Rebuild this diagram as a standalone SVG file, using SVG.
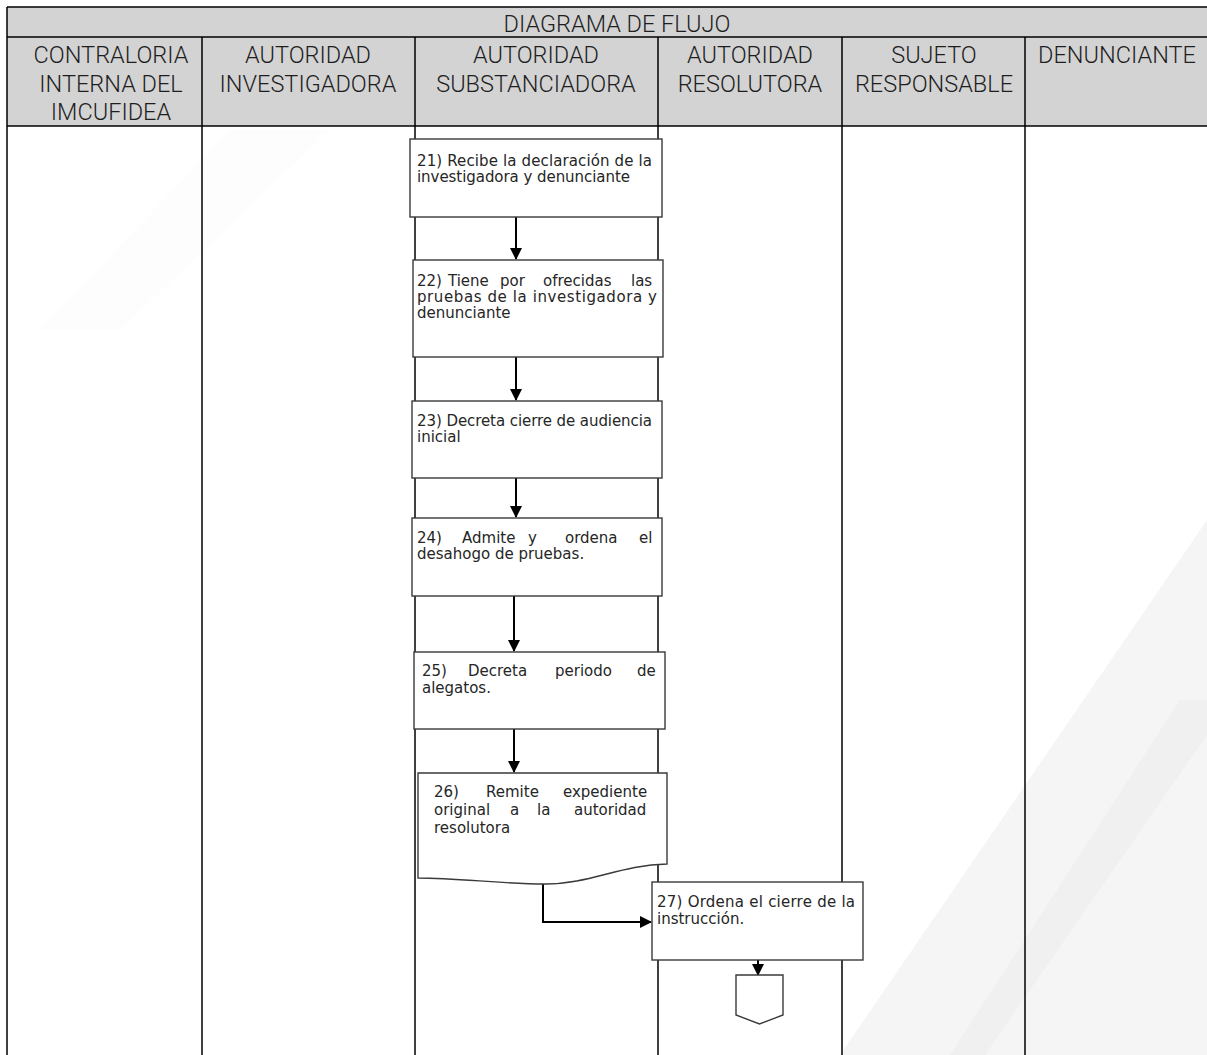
<svg xmlns="http://www.w3.org/2000/svg" width="1207" height="1055" viewBox="0 0 1207 1055">
  <defs>
    <marker id="arrow" viewBox="0 0 12 12" refX="11" refY="6" markerWidth="12" markerHeight="12" markerUnits="userSpaceOnUse" orient="auto">
      <path d="M0,0 L12,6 L0,12 Z" fill="#000"/>
    </marker>
    <style>
      .hdr { fill: #d3d3d3; }
      .grid { stroke: #000; stroke-width: 1.5; fill: none; }
      .htxt { font-family: Roboto, "Liberation Sans", sans-serif; font-weight: 300; font-size: 23.5px; fill: #1e1e1e; text-anchor: middle; }
      .box { fill: #fff; stroke: #3a3a3a; stroke-width: 1.4; }
      .t { font-family: "DejaVu Sans", sans-serif; font-size: 15px; fill: #262626; }
      .conn { stroke: #000; stroke-width: 2; fill: none; marker-end: url(#arrow); }
      .wm { fill: #f5f5f5; }
    </style>
  </defs>

  <!-- background and faint watermark bands -->
  <rect x="0" y="0" width="1207" height="1055" fill="#fff"/>
  <polygon class="wm" points="1207,520 840,1055 1207,1055"/>
  <polygon fill="#f0f0f0" points="1207,700 1180,700 950,1055 985,1055 1207,735"/>
  <polygon fill="#fdfdfd" points="330,130 230,130 40,330 120,330"/>

  <!-- table header -->
  <g id="header">
    <rect class="hdr" x="7" y="7" width="1200" height="119"/>
    <line class="grid" x1="7" y1="7" x2="1207" y2="7"/>
    <line class="grid" x1="7" y1="37" x2="1207" y2="37"/>
    <line class="grid" x1="7" y1="126" x2="1207" y2="126"/>
    <text class="htxt" x="617" y="32">DIAGRAMA DE FLUJO</text>
    <text class="htxt" x="111" y="63">CONTRALORIA</text>
    <text class="htxt" x="111" y="92">INTERNA DEL</text>
    <text class="htxt" x="111" y="120">IMCUFIDEA</text>
    <text class="htxt" x="308" y="63">AUTORIDAD</text>
    <text class="htxt" x="308" y="92">INVESTIGADORA</text>
    <text class="htxt" x="536" y="63">AUTORIDAD</text>
    <text class="htxt" x="536" y="92">SUBSTANCIADORA</text>
    <text class="htxt" x="750" y="63">AUTORIDAD</text>
    <text class="htxt" x="750" y="92">RESOLUTORA</text>
    <text class="htxt" x="934" y="63">SUJETO</text>
    <text class="htxt" x="934" y="92">RESPONSABLE</text>
    <text class="htxt" x="1117" y="63">DENUNCIANTE</text>
  </g>

  <!-- lane dividers -->
  <g id="lanes">
    <line class="grid" x1="7" y1="7" x2="7" y2="1055"/>
    <line class="grid" x1="202" y1="37" x2="202" y2="1055"/>
    <line class="grid" x1="415" y1="37" x2="415" y2="1055"/>
    <line class="grid" x1="658" y1="37" x2="658" y2="1055"/>
    <line class="grid" x1="842" y1="37" x2="842" y2="1055"/>
    <line class="grid" x1="1025" y1="37" x2="1025" y2="1055"/>
  </g>

  <!-- connectors -->
  <g id="connectors">
    <line class="conn" x1="516" y1="217" x2="516" y2="259"/>
    <line class="conn" x1="516" y1="357" x2="516" y2="400"/>
    <line class="conn" x1="516" y1="478" x2="516" y2="517"/>
    <line class="conn" x1="514" y1="596" x2="514" y2="651"/>
    <line class="conn" x1="514" y1="729" x2="514" y2="772"/>
    <polyline class="conn" points="543,882 543,922 651,922"/>
    <line class="conn" x1="758" y1="960" x2="758" y2="975"/>
  </g>

  <g id="n21">
    <rect class="box" x="410" y="139" width="252" height="78"/>
    <text class="t" x="417" y="166" textLength="235" lengthAdjust="spacing">21) Recibe la declaración de la</text>
    <text class="t" x="417" y="182" textLength="213" lengthAdjust="spacing">investigadora y denunciante</text>
  </g>

  <g id="n22">
    <rect class="box" x="413" y="260" width="250" height="97"/>
    <text class="t" y="286"><tspan x="417">22)</tspan><tspan x="448">Tiene</tspan><tspan x="500">por</tspan><tspan x="543">ofrecidas</tspan><tspan x="631">las</tspan></text>
    <text class="t" x="417" y="302" textLength="240" lengthAdjust="spacing">pruebas de la investigadora y</text>
    <text class="t" x="417" y="318">denunciante</text>
  </g>

  <g id="n23">
    <rect class="box" x="412" y="401" width="250" height="77"/>
    <text class="t" x="417" y="426" textLength="235" lengthAdjust="spacing">23) Decreta cierre de audiencia</text>
    <text class="t" x="417" y="442">inicial</text>
  </g>

  <g id="n24">
    <rect class="box" x="412" y="518" width="250" height="78"/>
    <text class="t" y="543"><tspan x="417">24)</tspan><tspan x="462">Admite</tspan><tspan x="528">y</tspan><tspan x="565">ordena</tspan><tspan x="639">el</tspan></text>
    <text class="t" x="417" y="559">desahogo de pruebas.</text>
  </g>

  <g id="n25">
    <rect class="box" x="414" y="652" width="251" height="77"/>
    <text class="t" y="676"><tspan x="422">25)</tspan><tspan x="468">Decreta</tspan><tspan x="555">periodo</tspan><tspan x="637">de</tspan></text>
    <text class="t" x="422" y="693">alegatos.</text>
  </g>

  <g id="n26">
    <path class="box" d="M418,773 H667 V864 C620,865 590,884 545,884 C500,884 460,878 418,878 Z"/>
    <text class="t" y="797"><tspan x="434">26)</tspan><tspan x="486">Remite</tspan><tspan x="563">expediente</tspan></text>
    <text class="t" y="815"><tspan x="434">original</tspan><tspan x="510">a</tspan><tspan x="537">la</tspan><tspan x="574">autoridad</tspan></text>
    <text class="t" x="434" y="833">resolutora</text>
  </g>

  <g id="n27">
    <rect class="box" x="652" y="882" width="211" height="78"/>
    <text class="t" x="657" y="907" textLength="198" lengthAdjust="spacing">27) Ordena el cierre de la</text>
    <text class="t" x="657" y="924">instrucción.</text>
  </g>

  <g id="offpage">
    <path class="box" d="M736,975 H783 V1015 L759.5,1024 L736,1015 Z"/>
  </g>
</svg>
